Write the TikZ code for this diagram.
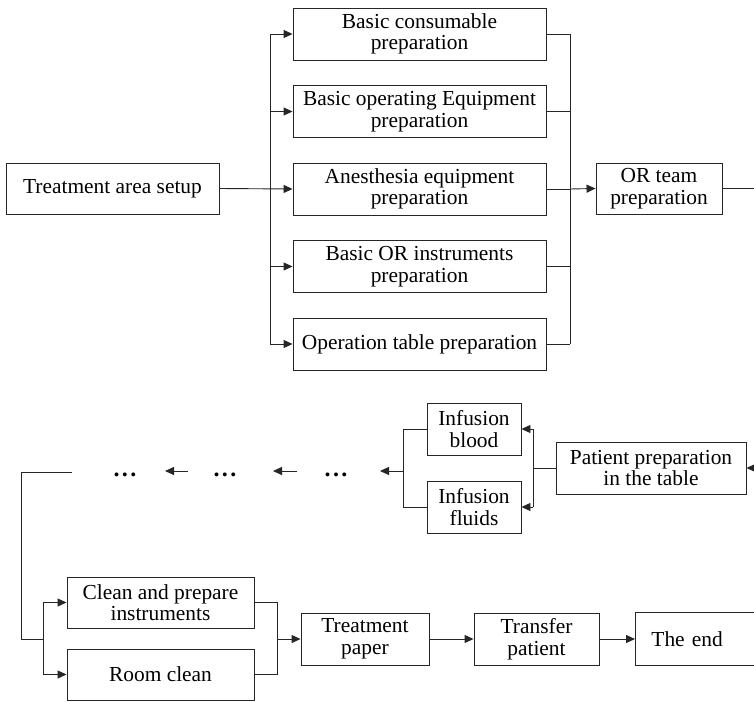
\documentclass[tikz,border=0pt]{standalone}
\usepackage{fontspec}
\setmainfont{Liberation Serif}
\usetikzlibrary{arrows.meta}
\begin{document}
\begin{tikzpicture}[x=1pt,y=-1pt,
  box/.style={draw=black!85, line width=0.9pt, inner sep=0pt, align=center,
              font=\fontsize{21.4}{21.5}\selectfont},
  topbox/.style={box, minimum width=253pt, minimum height=52pt},
  ln/.style={draw=black!85, line width=0.9pt},
  arr/.style={ln, -{Triangle[length=9pt,width=8pt]}},
  dots/.style={inner sep=0pt, anchor=base, font=\fontsize{24}{24}\selectfont\bfseries}]
\useasboundingbox (0,0) rectangle (754,701);

% top part
\node[box, minimum width=213pt, minimum height=51pt] (tas) at (112.5,188.5) {Treatment area setup};
\node[topbox] (b1) at (419.5,34) {Basic consumable\\preparation};
\node[topbox] (b2) at (419.5,111.5) {Basic operating Equipment\\preparation};
\node[topbox] (b3) at (419.5,189) {Anesthesia equipment\\preparation};
\node[topbox] (b4) at (419.5,266.5) {Basic OR instruments\\preparation};
\node[topbox] (b5) at (419.5,344) {Operation table preparation};
\node[box, minimum width=126pt, minimum height=51pt] (or) at (659,188.5) {OR team\\preparation};

\coordinate (lt) at (270,34);
\coordinate (lb) at (270,344);
\coordinate (rt) at (570,34);
\coordinate (rb) at (570,344);
\coordinate (rm) at (570,189);
\coordinate (orout) at (754,188.5);

\draw[arr] (tas.east) -- (b3.west);
\draw[ln] (lt) -- (lb);
\foreach \b in {b1,b2,b4,b5} \draw[arr] (lt |- \b.west) -- (\b.west);
\foreach \b in {b1,b2,b3,b4,b5} \draw[ln] (\b.east) -- (rt |- \b.east);
\draw[ln] (rt) -- (rb);
\draw[arr] (rm) -- (or.west);
\draw[ln] (or.east) -- (orout);

% middle part
\node[box, minimum width=190pt, minimum height=52pt] (pp) at (651,468) {Patient preparation\\in the table};
\node[box, minimum width=94pt, minimum height=52pt] (ib) at (474,429) {Infusion\\blood};
\node[box, minimum width=94pt, minimum height=52pt] (if) at (474,507) {Infusion\\fluids};
\coordinate (ppin) at (754,468);
\draw[arr] (ppin) -- (pp.east);

\coordinate (rbr) at (533,468);
\draw[ln] (pp.west) -- (rbr);
\draw[ln] (533,429) -- (533,507);
\draw[arr] (533,429) -- (ib.east);
\draw[arr] (533,507) -- (if.east);

\coordinate (lbr) at (403,471);
\draw[ln] (ib.west) -| (lbr);
\draw[ln] (if.west) -| (lbr);

\node[dots] (d1) at (336,476) {.\kern2.5pt.\kern2.5pt.};
\node[dots] (d2) at (225,476) {.\kern2.5pt.\kern2.5pt.};
\node[dots] (d3) at (125,476) {.\kern2.5pt.\kern2.5pt.};
\coordinate (a1) at (380,471);
\coordinate (a2s) at (297,471);
\coordinate (a2e) at (273,471);
\coordinate (a3s) at (188,471);
\coordinate (a3e) at (165,471);
\draw[arr] (lbr) -- (a1);
\draw[arr] (a2s) -- (a2e);
\draw[arr] (a3s) -- (a3e);

% bottom part
\node[box, minimum width=187pt, minimum height=51pt] (cl) at (160.5,602.5) {Clean and prepare\\instruments};
\node[box, minimum width=187pt, minimum height=51pt] (rc) at (160.5,674.5) {Room clean};
\node[box, minimum width=128pt, minimum height=52pt] (tp) at (365,639) {Treatment\\paper};
\node[box, minimum width=125pt, minimum height=52pt] (tr) at (536.5,639) {Transfer\\patient};
\node[box, draw=none, anchor=west, text width=119pt, align=left, inner xsep=16pt,
      minimum height=52pt] (end) at (635,639) {The end};
\draw[ln] (end.north east) -- (end.north west) -- (end.south west) -- (end.south east);

\coordinate (st) at (72,472);
\coordinate (bl) at (43,639);
\draw[ln] (st) -| (21,639) -- (bl);
\draw[ln] (43,602.5) -- (43,674.5);
\draw[arr] (43,602.5) -- (cl.west);
\draw[arr] (43,674.5) -- (rc.west);
\draw[ln] (cl.east) -| (277,639);
\draw[ln] (rc.east) -| (277,639);
\draw[arr] (277,639) -- (tp.west);
\draw[arr] (tp.east) -- (tr.west);
\draw[arr] (tr.east) -- (end.west);
\end{tikzpicture}
\end{document}
